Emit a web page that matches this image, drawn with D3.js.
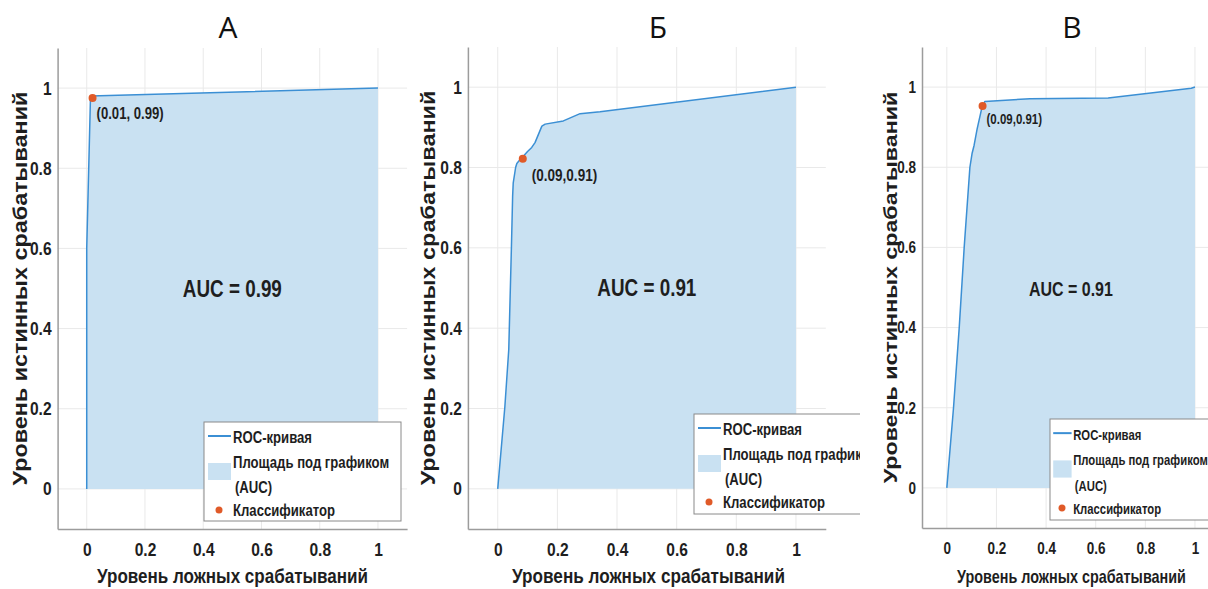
<!DOCTYPE html>
<html>
<head>
<meta charset="utf-8">
<script src="https://cdn.jsdelivr.net/npm/d3@7"></script>
<style>
  body { margin: 0; background: #fff; }
  svg { display: block; }
</style>
</head>
<body>
<svg id="chart" width="1208" height="589"></svg>
<script>
// data
const panelTitles = ['А', 'Б', 'В'];
const tickValues = [0, 0.2, 0.4, 0.6, 0.8, 1];
const tickLabels = ['0', '0.2', '0.4', '0.6', '0.8', '1'];
const xTitle = 'Уровень ложных срабатываний';
const yTitle = 'Уровень истинных срабатываний';
const aucLabels = ['AUC = 0.99', 'AUC = 0.91', 'AUC = 0.91'];
const legendLabels = ['ROC-кривая', 'Площадь под графиком', '(AUC)', 'Классификатор'];

const fprA = [0, 0, 0.013, 1];
const tprA = [0, 0.6, 0.98, 1];

const fprB = [0, 0.024, 0.037, 0.046, 0.05, 0.052, 0.06, 0.064, 0.075, 0.088, 0.1, 0.114, 0.125, 0.148, 0.159, 0.22, 0.276, 0.343, 1];
const tprB = [0, 0.205, 0.347, 0.604, 0.729, 0.762, 0.8, 0.81, 0.82, 0.83, 0.84, 0.85, 0.862, 0.903, 0.908, 0.916, 0.934, 0.939, 1];

const fprC = [0, 0.027, 0.05, 0.07, 0.093, 0.102, 0.11, 0.122, 0.14, 0.153, 0.335, 0.65, 0.985, 1];
const tprC = [0, 0.2, 0.4, 0.6, 0.8, 0.835, 0.855, 0.895, 0.945, 0.964, 0.971, 0.973, 0.997, 1];

const classFpr = [0.02, 0.084, 0.144];
const classTpr = [0.975, 0.822, 0.953];
const classLabels = ['(0.01, 0.99)', '(0.09,0.91)', '(0.09,0.91)'];

const FONT = "'Liberation Sans', Arial, sans-serif";
const NARROW = 0.82; // fake a narrow face
const lineColor = '#3b8fd4';
const fillColor = '#c9e1f2';
const dotColor = '#e05a28';
const gridColor = '#e9e9e9';
const axisColor = '#9c9c9c';
const textColor = '#1e1e1e';

// panel placement (pixels)
let panels = [
  { fpr: fprA, tpr: tprA, left: 57.6, right: 407.1, top: 48, bottom: 529, clip: 412,
    tickFs: 19, titleX: 228, yTitleX: 20, xTitleX: 232.5, xTitleW: 271, yTitleW: 394, axisFs: 20,
    aucFs: 23, lblDx: 4, lblDy: 21, lblFs: 16,
    legend: { x: 204, y: 422, w: 197, h: 99, fs: 16, k: 1, kx: 1 } },
  { fpr: fprB, tpr: tprB, left: 467.9, right: 825.8, top: 47, bottom: 529, clip: 860,
    tickFs: 19, titleX: 658, yTitleX: 428, xTitleX: 648.5, xTitleW: 273, yTitleW: 395, axisFs: 20,
    aucFs: 23, lblDx: 9, lblDy: 22, lblFs: 16.5,
    legend: { x: 694, y: 414, w: 200, h: 100, fs: 16, k: 1, kx: 1 } },
  { fpr: fprC, tpr: tprC, left: 922, right: 1219.8, top: 47, bottom: 528, clip: 1208,
    tickFs: 16.5, titleX: 1072, yTitleX: 891, xTitleX: 1071.5, xTitleW: 229, yTitleW: 392, axisFs: 18,
    aucFs: 19.5, lblDx: 4, lblDy: 18, lblFs: 14,
    legend: { x: 1050, y: 419, w: 180, h: 101, fs: 13.8, k: 1.01, kx: 0.8 } }
];

let svg = d3.select('#chart');
let defs = svg.append('defs');

// bold narrow-looking text at (x, y)
let addText = (parent, x, y, str, fs, anchor, sx) => {
  return parent.append('text')
    .attr('transform', `translate(${x}, ${y}) scale(${sx || NARROW}, 1)`)
    .attr('text-anchor', anchor || 'start')
    .attr('font-family', FONT).attr('font-weight', 'bold')
    .attr('font-size', fs)
    .attr('fill', textColor)
    .text(str);
};

panels.forEach((p, i) => {
  let x = d3.scaleLinear().domain([-0.1, 1.1]).range([p.left, p.right]);
  let y = d3.scaleLinear().domain([-0.1, 1.1]).range([p.bottom, p.top]);

  defs.append('clipPath').attr('id', 'clip' + i)
    .append('rect')
    .attr('x', p.left - 70).attr('y', 0)
    .attr('width', p.clip - p.left + 70).attr('height', 589);

  let g = svg.append('g').attr('clip-path', `url(#clip${i})`);

  // grid
  g.append('g').selectAll('line')
    .data(tickValues)
    .enter().append('line')
    .attr('x1', d => x(d)).attr('x2', d => x(d))
    .attr('y1', p.top).attr('y2', p.bottom)
    .attr('stroke', gridColor).attr('stroke-width', 1);
  g.append('g').selectAll('line')
    .data(tickValues)
    .enter().append('line')
    .attr('x1', p.left).attr('x2', p.right)
    .attr('y1', d => y(d)).attr('y2', d => y(d))
    .attr('stroke', gridColor).attr('stroke-width', 1);

  let pts = p.fpr.map((f, j) => [f, p.tpr[j]]);

  // area under curve
  let area = d3.area()
    .x(d => x(d[0]))
    .y0(y(0))
    .y1(d => y(d[1]));
  g.append('path')
    .datum(pts)
    .attr('d', area)
    .attr('fill', fillColor);

  // roc line
  let line = d3.line()
    .x(d => x(d[0]))
    .y(d => y(d[1]));
  g.append('path')
    .datum(pts)
    .attr('d', line)
    .attr('fill', 'none')
    .attr('stroke', lineColor)
    .attr('stroke-width', 1.5)
    .attr('stroke-linejoin', 'round');

  // classifier point
  g.append('circle')
    .attr('cx', x(classFpr[i])).attr('cy', y(classTpr[i]))
    .attr('r', 4)
    .attr('fill', dotColor);
  addText(g, x(classFpr[i]) + p.lblDx, y(classTpr[i]) + p.lblDy, classLabels[i], p.lblFs);

  // AUC text
  addText(g, x(0.5), y(0.5) + 8, aucLabels[i], p.aucFs, 'middle');

  // axes
  let xAxis = d3.axisBottom(x).tickValues(tickValues)
    .tickFormat((d, j) => tickLabels[j])
    .tickSizeInner(0).tickSizeOuter(0).tickPadding(14);
  let yAxis = d3.axisLeft(y).tickValues(tickValues)
    .tickFormat((d, j) => tickLabels[j])
    .tickSizeInner(0).tickSizeOuter(0).tickPadding(6 / NARROW);

  let gx = g.append('g').attr('transform', `translate(0, ${p.bottom})`).call(xAxis);
  let gy = g.append('g').attr('transform', `translate(${p.left}, 0)`).call(yAxis);
  [gx, gy].forEach(a => {
    a.select('.domain').attr('stroke', axisColor).attr('stroke-width', 1.5);
    a.selectAll('text')
      .attr('font-family', FONT).attr('font-weight', 'bold')
      .attr('font-size', p.tickFs).attr('fill', textColor)
      .attr('transform', `scale(${NARROW}, 1)`);
  });

  // axis titles, stretched to the widths seen in the picture
  let xt = addText(g, p.xTitleX, 583, xTitle, p.axisFs, 'middle', 1);
  let xs = p.xTitleW / xt.node().getComputedTextLength();
  xt.attr('transform', `translate(${p.xTitleX}, 583) scale(${xs}, 1)`);

  let ymid = (p.top + p.bottom) / 2;
  let yt = addText(g, 0, 0, yTitle, p.axisFs, 'middle', 1).attr('dy', '0.35em');
  let ys = p.yTitleW / yt.node().getComputedTextLength();
  yt.attr('transform', `translate(${p.yTitleX}, ${ymid}) rotate(-90) scale(${ys}, 1)`);

  // panel letter
  svg.append('text')
    .attr('x', p.titleX).attr('y', 38)
    .attr('text-anchor', 'middle')
    .attr('font-family', "'Open Sans', 'Noto Sans', sans-serif")
    .attr('font-size', 30)
    .attr('fill', '#111')
    .text(panelTitles[i]);

  // legend
  let L = p.legend;
  let k = L.k;
  let kx = L.kx;
  let lg = g.append('g').attr('transform', `translate(${L.x}, ${L.y})`);
  lg.append('rect')
    .attr('x', 0).attr('y', 0).attr('width', L.w).attr('height', L.h)
    .attr('fill', '#fff')
    .attr('stroke', '#8a8a8a').attr('stroke-width', 1);
  lg.append('line')
    .attr('x1', 4 * kx).attr('x2', 27 * kx).attr('y1', 14 * k).attr('y2', 14 * k)
    .attr('stroke', lineColor).attr('stroke-width', 2);
  lg.append('rect')
    .attr('x', 4 * kx).attr('y', 41 * k).attr('width', 23 * kx).attr('height', 17 * k)
    .attr('fill', fillColor);
  lg.append('circle')
    .attr('cx', 15 * kx).attr('cy', 88 * k).attr('r', 3.5)
    .attr('fill', dotColor);

  let rows = [
    { t: legendLabels[0], x: 29, y: 21 },
    { t: legendLabels[1], x: 29, y: 46 },
    { t: legendLabels[2], x: 31, y: 71 },
    { t: legendLabels[3], x: 29, y: 94 }
  ];
  rows.forEach(r => addText(lg, r.x * kx, r.y * k, r.t, L.fs));
});
</script>
</body>
</html>
